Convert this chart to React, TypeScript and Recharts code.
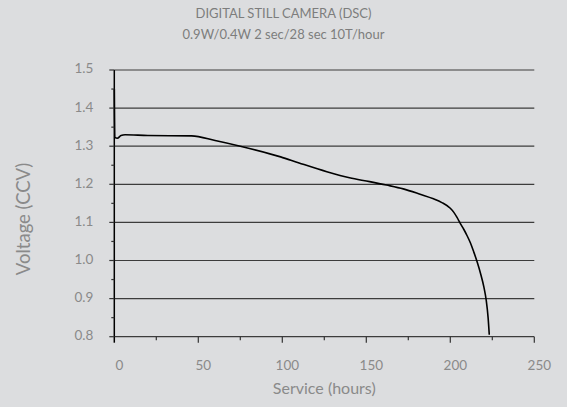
import React from 'react';
import { LineChart, Line, XAxis, YAxis, ReferenceLine } from 'recharts';

const hours = [0, 0.3, 1.8, 4, 6.4, 20, 46, 60, 75, 99, 110, 126.5, 140, 152, 162, 172, 182, 190, 195, 200, 202, 204, 206, 208, 210, 212, 214, 216, 218, 220, 221.4, 222.5, 223.2];
const voltage = [1.45, 1.323, 1.321, 1.328, 1.330, 1.328, 1.327, 1.315, 1.30, 1.272, 1.256, 1.233, 1.217, 1.207, 1.198, 1.188, 1.174, 1.162, 1.152, 1.137, 1.127, 1.113, 1.097, 1.082, 1.065, 1.046, 1.022, 0.996, 0.966, 0.93, 0.895, 0.85, 0.805];

const xTicks = [0, 25, 50, 75, 100, 125, 150, 175, 200, 225, 250];
const xLabels = [0, 50, 100, 150, 200, 250];
const yTicks = [0.8, 0.85, 0.9, 0.95, 1.0, 1.05, 1.1, 1.15, 1.2, 1.25, 1.3, 1.35, 1.4, 1.45, 1.5];
const yMajor = [0.8, 0.9, 1.0, 1.1, 1.2, 1.3, 1.4, 1.5];
const yLabels = ['0.8', '0.9', '1.0', '1.1', '1.2', '1.3', '1.4', '1.5'];

const title = 'DIGITAL STILL CAMERA (DSC)';
const subtitle = '0.9W/0.4W 2 sec/28 sec 10T/hour';
const xTitle = 'Service (hours)';
const yTitle = 'Voltage (CCV)';

const data = hours.map((h, i) => ({ x: h, v: voltage[i] }));

const FONT = 'Lato, "Open Sans", sans-serif';
const TEXT = '#8a8a8a';

const XTick = (props: any) => {
  const { x, y, payload } = props;
  const val = payload.value;
  const isMajor = xLabels.includes(val);
  return (
    <g>
      <line x1={x} x2={x} y1={y} y2={y + (isMajor ? 6 : 3.5)} stroke={val === 0 ? '#000' : '#333'} strokeWidth={val === 0 ? 1.5 : 1.2} />
      {isMajor && (
        <text x={x + 5} y={y + 30} textAnchor="middle" dominantBaseline="middle" fill={TEXT} fontSize={13.5} fontFamily={FONT}>
          {String(val)}
        </text>
      )}
    </g>
  );
};

const YTick = (props: any) => {
  const { x, y, payload } = props;
  const val = Math.round(payload.value * 100) / 100;
  const idx = yMajor.findIndex((m) => Math.abs(m - val) < 1e-6);
  const isMajor = idx >= 0;
  return (
    <g>
      <line x1={x - (isMajor ? 5 : 3)} x2={x} y1={y} y2={y} stroke="#333" strokeWidth={1.2} />
      {isMajor && (
        <text x={x - 21} y={y} textAnchor="end" dominantBaseline="middle" fill={TEXT} fontSize={13.5} fontFamily={FONT}>
          {yLabels[idx]}
        </text>
      )}
    </g>
  );
};

const YTitle = () => (
  <text transform="translate(25,219) rotate(-90)" textAnchor="middle" dominantBaseline="middle" fill={TEXT} fontSize={18.5} fontFamily={FONT}>
    {yTitle}
  </text>
);

export default function App() {
  return (
    <div style={{ position: 'absolute', left: 0, top: 0, width: 567, height: 407, background: '#dcdddf', fontFamily: FONT }}>
      <div style={{ position: 'absolute', left: 0, top: 4, width: 567, textAlign: 'center', color: '#7d7d7d', fontSize: 13, lineHeight: '18px' }}>
        {title}
      </div>
      <div style={{ position: 'absolute', left: 0, top: 25, width: 567, textAlign: 'center', color: '#7d7d7d', fontSize: 13, lineHeight: '18px' }}>
        {subtitle}
      </div>
      <div style={{ position: 'absolute', left: 0, top: 0 }}>
        <LineChart width={567} height={407} data={data} margin={{ top: 70, right: 32.7, left: 0, bottom: 0 }}>
          <XAxis
            type="number"
            dataKey="x"
            domain={[0, 250]}
            ticks={xTicks}
            interval={0}
            height={70.3}
            tickSize={0}
            tickMargin={0}
            tickLine={false}
            axisLine={false}
            tick={<XTick />}
            label={{ value: xTitle, position: 'insideBottom', offset: 13, fill: TEXT, fontSize: 16, fontFamily: FONT }}
          />
          <YAxis
            type="number"
            domain={[0.8, 1.5]}
            ticks={yTicks}
            interval={0}
            width={114.3}
            tickSize={0}
            tickMargin={0}
            tickLine={false}
            axisLine={false}
            tick={<YTick />}
            label={{ content: <YTitle /> }}
          />
          {yMajor.map((m) => (
            <ReferenceLine key={m} y={m} stroke="#3c3c3c" strokeWidth={1.2} />
          ))}
          <ReferenceLine x={0} stroke="#000" strokeWidth={1.5} />
          <Line type="monotone" dataKey="v" stroke="#000" strokeWidth={1.6} dot={false} isAnimationActive={false} />
        </LineChart>
      </div>
    </div>
  );
}
